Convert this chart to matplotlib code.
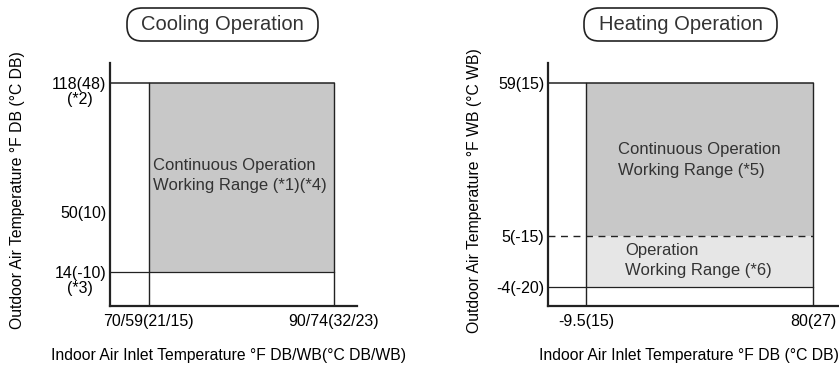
import numpy as np
import matplotlib
matplotlib.use("Agg")
import matplotlib.pyplot as plt
from matplotlib.patches import FancyBboxPatch
from matplotlib.transforms import blended_transform_factory

plt.rcParams['font.family'] = ['Liberation Sans', 'DejaVu Sans']

# cooling: indoor DB (F) limits, outdoor DB (F) limits
cool_x = [70, 90]
cool_x_labels = ['70/59(21/15)', '90/74(32/23)']
cool_y = [14, 50, 118]
cool_y_labels = ['14(-10)', '50(10)', '118(48)']
cool_y_notes = ['(*3)', '', '(*2)']

# heating: indoor DB (F) limits, outdoor WB (F) limits
heat_x = [-9.5, 80]
heat_x_labels = ['-9.5(15)', '80(27)']
heat_y = [-4, 5, 59]
heat_y_labels = ['-4(-20)', '5(-15)', '59(15)']

DARK = '#c8c8c8'
LIGHT = '#e6e6e6'
LINE = '#222222'
TXT = '#333333'


def piecewise_scale(ax, vals, screen):
    # schematic (not to scale) y axis
    fwd = lambda v: np.interp(v, vals, screen)
    inv = lambda s: np.interp(s, screen, vals)
    ax.set_yscale('function', functions=(fwd, inv))
    ax.set_ylim(vals[0], vals[-1])


def setup(ax, title, box, ylabel, xlabel):
    for s in ['top', 'right']:
        ax.spines[s].set_visible(False)
    for s in ['left', 'bottom']:
        ax.spines[s].set_linewidth(1.6)
        ax.spines[s].set_color(LINE)
    ax.tick_params(axis='y', length=0, labelsize=11.5, pad=2.5)
    ax.tick_params(axis='x', length=0, labelsize=11.5, pad=5.5)
    ax.set_ylabel(ylabel, fontsize=11.3)
    ax.set_xlabel(xlabel, fontsize=11.3)
    # rounded title box (inches)
    x0, y0, w, h = box
    fig.patches.append(FancyBboxPatch((x0, y0), w, h,
                                      boxstyle='round,pad=0,rounding_size=0.15',
                                      transform=fig.dpi_scale_trans,
                                      fc='white', ec=LINE, lw=1.2))
    fig.text(x0 + w / 2, y0 + h / 2, title, transform=fig.dpi_scale_trans,
             ha='center', va='center', fontsize=14.5, color=TXT)


fig = plt.figure(figsize=(8.39, 3.65), dpi=100)

# ---- cooling ----
ax1 = fig.add_axes([110/839, 59/365, 247/839, 243/365])
piecewise_scale(ax1, [-6.4, 14, 50, 118, 128.5], [0, 34, 94, 223, 243])
ax1.set_xlim(65.8, 92.5)
ax1.fill_between(cool_x, cool_y[0], cool_y[-1], color=DARK, lw=0)
ax1.plot([ax1.get_xlim()[0], cool_x[1]], [cool_y[-1]] * 2, color=LINE, lw=1.1)
ax1.plot([ax1.get_xlim()[0], cool_x[1]], [cool_y[0]] * 2, color=LINE, lw=0.9)
for x in cool_x:
    ax1.plot([x, x], [ax1.get_ylim()[0], cool_y[-1]], color=LINE, lw=1.0)
ax1.set_xticks(cool_x, cool_x_labels)
ax1.set_yticks(cool_y, cool_y_labels)
tr = blended_transform_factory(ax1.transAxes, ax1.transData)
for y, note in zip(cool_y, cool_y_notes):
    if note:
        ax1.annotate(note, (0, y), xycoords=tr, xytext=(-21.5, -6.5),
                     textcoords='offset points', ha='center', va='top',
                     fontsize=11.5)
ax1.text(0.174, 0.537, 'Continuous Operation\nWorking Range (*1)(*4)',
         transform=ax1.transAxes, fontsize=12, va='center', ha='left',
         linespacing=1.45, color=TXT)
setup(ax1, 'Cooling Operation', (1.27, 3.24, 1.91, 0.33),
      'Outdoor Air Temperature °F DB (°C DB)',
      'Indoor Air Inlet Temperature °F DB/WB(°C DB/WB)')
ax1.yaxis.set_label_coords(-0.344, 0.475)
ax1.xaxis.set_label_coords(0.478, -0.172)

# ---- heating ----
ax2 = fig.add_axes([548/839, 59/365, 291/839, 243/365])
piecewise_scale(ax2, [-7.35, -4, 5, 59, 66.06], [0, 19, 70, 223, 243])
k = (heat_x[1] - heat_x[0]) / 227
ax2.set_xlim(heat_x[0] - 38 * k, heat_x[0] + 253 * k)
x0 = ax2.get_xlim()[0]
ax2.fill_between(heat_x, heat_y[1], heat_y[2], color=DARK, lw=0)
ax2.fill_between(heat_x, heat_y[0], heat_y[1], color=LIGHT, lw=0)
ax2.plot([x0, heat_x[1]], [heat_y[2]] * 2, color=LINE, lw=1.1)
ax2.plot([x0, heat_x[1]], [heat_y[1]] * 2, color=LINE, lw=1.0, dashes=(5, 4))
ax2.plot([x0, heat_x[1]], [heat_y[0]] * 2, color=LINE, lw=0.9)
for x in heat_x:
    ax2.plot([x, x], [ax2.get_ylim()[0], heat_y[2]], color=LINE, lw=1.0)
ax2.set_xticks(heat_x, heat_x_labels)
ax2.set_yticks(heat_y, heat_y_labels)
ax2.text(0.2405, 0.601, 'Continuous Operation\nWorking Range (*5)',
         transform=ax2.transAxes, fontsize=12, va='center', ha='left',
         linespacing=1.45, color=TXT)
ax2.text(0.2646, 0.187, 'Operation\nWorking Range (*6)',
         transform=ax2.transAxes, fontsize=12, va='center', ha='left',
         linespacing=1.45, color=TXT)
setup(ax2, 'Heating Operation', (5.84, 3.24, 1.93, 0.33),
      'Outdoor Air Temperature °F WB (°C WB)',
      'Indoor Air Inlet Temperature °F DB (°C DB)')
ax2.yaxis.set_label_coords(-0.227, 0.475)
ax2.xaxis.set_label_coords(0.485, -0.172)

fig.savefig('out.png', dpi=100)
